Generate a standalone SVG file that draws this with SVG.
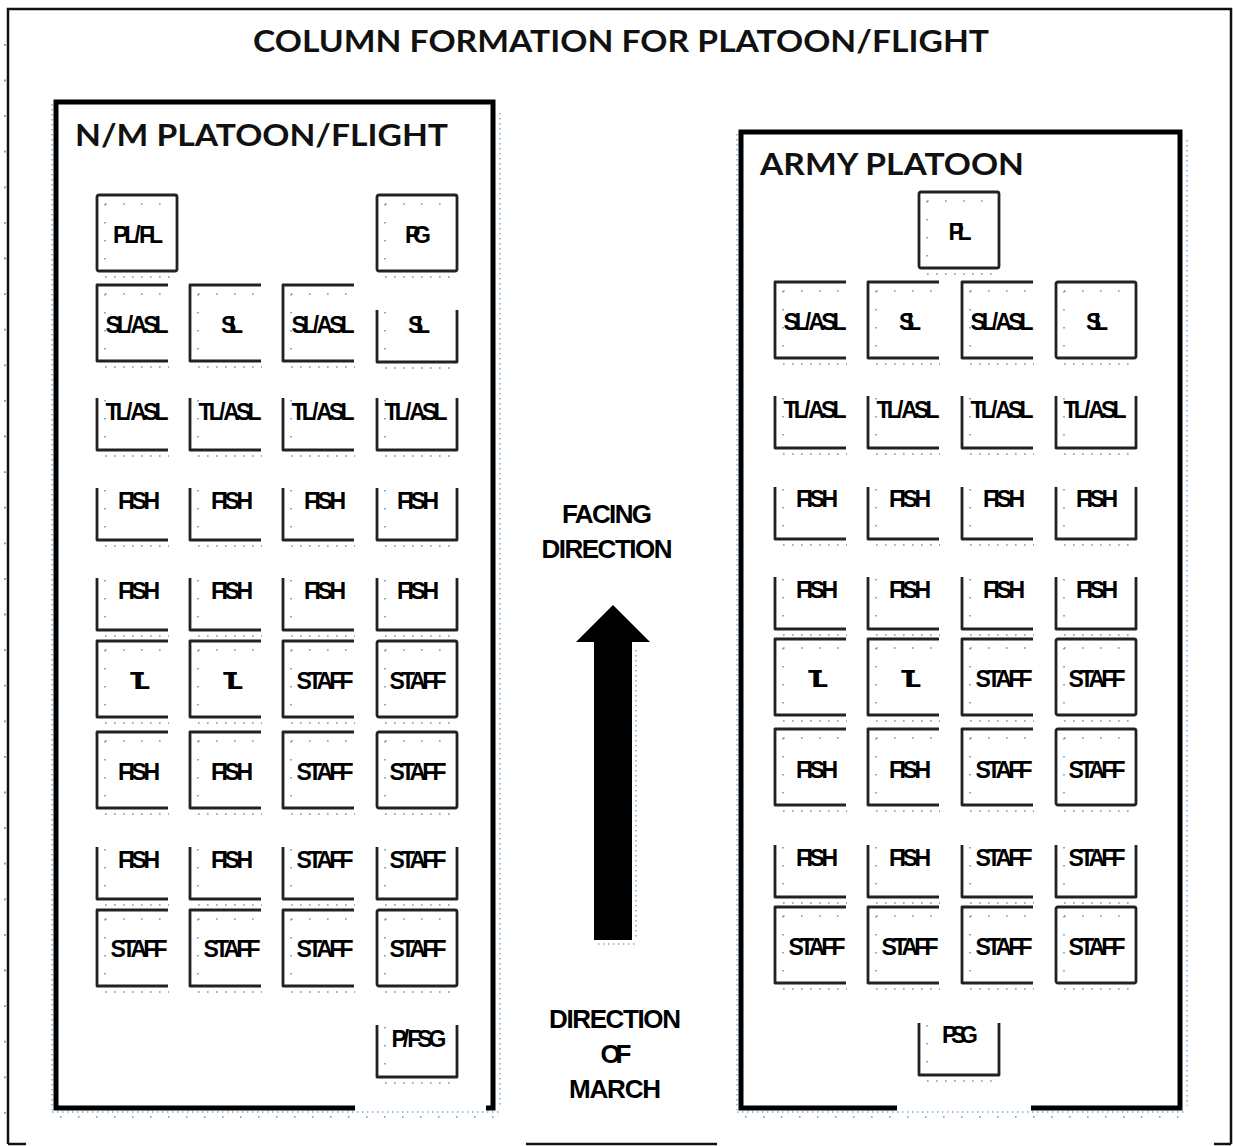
<svg xmlns="http://www.w3.org/2000/svg" xmlns:xlink="http://www.w3.org/1999/xlink" width="1236" height="1146" viewBox="0 0 1236 1146">
<style>
.frame{fill:none;stroke:#111;stroke-width:2.5}
.cont{fill:none;stroke:#000;stroke-width:5;stroke-linejoin:miter}
.b{fill:none;stroke:#222;stroke-width:2.8;stroke-linejoin:round}
.dt{fill:none;stroke:#5b9bd5;stroke-width:1.6;stroke-dasharray:1.6 16.4}
.db{fill:none;stroke:#5b9bd5;stroke-width:1.6;stroke-dasharray:1.6 7.4}
.dd{fill:none;stroke:#6fa8dc;stroke-width:1.4;stroke-dasharray:1.4 3.6}
.ds{fill:none;stroke:#5b9bd5;stroke-width:1.8;stroke-dasharray:1.8 33.8}
.title{font-family:Lato,"Open Sans","Liberation Sans",sans-serif;font-weight:bold;font-size:31px;fill:#111}
.lbl{font-family:"Liberation Sans",Arial,sans-serif;font-weight:bold;font-size:23px;fill:#000;text-anchor:middle}
.big{font-family:"Liberation Sans",Arial,sans-serif;font-weight:bold;font-size:26px;fill:#000;text-anchor:middle}
</style>
<defs>
<g id="sq"><rect x="0" y="0" width="80" height="76" rx="2" class="b"/><path class="dt" d="M8,9H72M8,9V66"/><path class="db" d="M8,82H80"/></g>
<g id="br"><path class="b" d="M71,0H0V76H71"/><path class="dt" d="M8,9H72M8,9V66"/><path class="db" d="M8,82H72"/></g>
<g id="L"><path class="b" d="M0,0V52H71"/><path class="dt" d="M8,2V50"/><path class="db" d="M8,58H72"/></g>
<g id="U"><path class="b" d="M0,0V52H80V0"/><path class="dt" d="M8,2V50"/><path class="db" d="M8,58H80"/></g>
</defs>

<g id="outer-frame">
<path class="frame" d="M8,1144V9H1231V1144"/>
<path class="frame" d="M8,1144H26M526,1144H717M1214,1144H1231"/>
<path class="ds" d="M5,44V1140"/>
</g>

<text class="title" x="621" y="52" text-anchor="middle" textLength="736" lengthAdjust="spacingAndGlyphs">COLUMN FORMATION FOR PLATOON/FLIGHT</text>

<g id="nm-platoon">
<path class="cont" d="M355,1108H56V102H493V1108H486"/>
<path class="dd" d="M52,104V1110M500,113V1106M52,1112H500"/>
<path class="dt" d="M60,1117H500"/>
<text class="title" x="75" y="146" textLength="373" lengthAdjust="spacingAndGlyphs">N/M PLATOON/FLIGHT</text>
</g>

<g id="army-platoon">
<path class="cont" d="M897,1108H741V132H1180V1108H1031"/>
<path class="dd" d="M737,134V1110M1187,140V1106M737,1112H1187"/>
<path class="dt" d="M745,1117H1187"/>
<text class="title" x="760" y="175" textLength="264" lengthAdjust="spacingAndGlyphs">ARMY PLATOON</text>
</g>

<g id="nm-nodes">
<g id="nm-r1c1"><use href="#sq" x="97" y="195"/><text class="lbl" x="138" y="243" textLength="50">PL/ FL</text></g>
<g id="nm-r1c4"><use href="#sq" x="377" y="195"/><text class="lbl" x="418" y="243" textLength="26">PG</text></g>

<g id="nm-r2c1"><use href="#br" x="97" y="285"/><text class="lbl" x="137" y="333" textLength="63">SL/ ASL</text></g>
<g id="nm-r2c2"><use href="#br" x="190" y="285"/><text class="lbl" x="232" y="333" textLength="22">SL</text></g>
<g id="nm-r2c3"><use href="#br" x="283" y="285"/><text class="lbl" x="323" y="333" textLength="63">SL/ ASL</text></g>
<g id="nm-r2c4"><use href="#U" x="377" y="310"/><text class="lbl" x="419" y="333" textLength="22">SL</text></g>

<g id="nm-r3c1"><use href="#L" x="97" y="398"/><text class="lbl" x="137" y="420" textLength="63">TL/ ASL</text></g>
<g id="nm-r3c2"><use href="#L" x="190" y="398"/><text class="lbl" x="230" y="420" textLength="63">TL/ ASL</text></g>
<g id="nm-r3c3"><use href="#L" x="283" y="398"/><text class="lbl" x="323" y="420" textLength="63">TL/ ASL</text></g>
<g id="nm-r3c4"><use href="#U" x="377" y="398"/><text class="lbl" x="416" y="420" textLength="63">TL/ ASL</text></g>

<g id="nm-r4c1"><use href="#L" x="97" y="488"/><text class="lbl" x="139" y="509" textLength="42">FISH</text></g>
<g id="nm-r4c2"><use href="#L" x="190" y="488"/><text class="lbl" x="232" y="509" textLength="42">FISH</text></g>
<g id="nm-r4c3"><use href="#L" x="283" y="488"/><text class="lbl" x="325" y="509" textLength="42">FISH</text></g>
<g id="nm-r4c4"><use href="#U" x="377" y="488"/><text class="lbl" x="418" y="509" textLength="42">FISH</text></g>

<g id="nm-r5c1"><use href="#L" x="97" y="578"/><text class="lbl" x="139" y="599" textLength="42">FISH</text></g>
<g id="nm-r5c2"><use href="#L" x="190" y="578"/><text class="lbl" x="232" y="599" textLength="42">FISH</text></g>
<g id="nm-r5c3"><use href="#L" x="283" y="578"/><text class="lbl" x="325" y="599" textLength="42">FISH</text></g>
<g id="nm-r5c4"><use href="#U" x="377" y="578"/><text class="lbl" x="418" y="599" textLength="42">FISH</text></g>

<g id="nm-r6c1"><use href="#br" x="97" y="641"/><text class="lbl" x="140" y="689" textLength="20">TL</text></g>
<g id="nm-r6c2"><use href="#br" x="190" y="641"/><text class="lbl" x="233" y="689" textLength="20">TL</text></g>
<g id="nm-r6c3"><use href="#br" x="283" y="641"/><text class="lbl" x="325" y="689" textLength="57">STAFF</text></g>
<g id="nm-r6c4"><use href="#sq" x="377" y="641"/><text class="lbl" x="418" y="689" textLength="57">STAFF</text></g>

<g id="nm-r7c1"><use href="#br" x="97" y="732"/><text class="lbl" x="139" y="780" textLength="42">FISH</text></g>
<g id="nm-r7c2"><use href="#br" x="190" y="732"/><text class="lbl" x="232" y="780" textLength="42">FISH</text></g>
<g id="nm-r7c3"><use href="#br" x="283" y="732"/><text class="lbl" x="325" y="780" textLength="57">STAFF</text></g>
<g id="nm-r7c4"><use href="#sq" x="377" y="732"/><text class="lbl" x="418" y="780" textLength="57">STAFF</text></g>

<g id="nm-r8c1"><use href="#L" x="97" y="847"/><text class="lbl" x="139" y="868" textLength="42">FISH</text></g>
<g id="nm-r8c2"><use href="#L" x="190" y="847"/><text class="lbl" x="232" y="868" textLength="42">FISH</text></g>
<g id="nm-r8c3"><use href="#L" x="283" y="847"/><text class="lbl" x="325" y="868" textLength="57">STAFF</text></g>
<g id="nm-r8c4"><use href="#U" x="377" y="847"/><text class="lbl" x="418" y="868" textLength="57">STAFF</text></g>

<g id="nm-r9c1"><use href="#br" x="97" y="910"/><text class="lbl" x="139" y="957" textLength="57">STAFF</text></g>
<g id="nm-r9c2"><use href="#br" x="190" y="910"/><text class="lbl" x="232" y="957" textLength="57">STAFF</text></g>
<g id="nm-r9c3"><use href="#br" x="283" y="910"/><text class="lbl" x="325" y="957" textLength="57">STAFF</text></g>
<g id="nm-r9c4"><use href="#sq" x="377" y="910"/><text class="lbl" x="418" y="957" textLength="57">STAFF</text></g>

<g id="nm-r10c4"><use href="#U" x="377" y="1025"/><text class="lbl" x="419" y="1047" textLength="55">P/ FSG</text></g>
</g>

<g id="army-nodes">
<g id="ar-r1"><use href="#sq" x="919" y="192"/><text class="lbl" x="960" y="240" textLength="23">PL</text></g>

<g id="ar-r2c1"><use href="#br" x="775" y="282"/><text class="lbl" x="815" y="330" textLength="63">SL/ ASL</text></g>
<g id="ar-r2c2"><use href="#br" x="868" y="282"/><text class="lbl" x="910" y="330" textLength="22">SL</text></g>
<g id="ar-r2c3"><use href="#br" x="962" y="282"/><text class="lbl" x="1002" y="330" textLength="63">SL/ ASL</text></g>
<g id="ar-r2c4"><use href="#sq" x="1056" y="282"/><text class="lbl" x="1097" y="330" textLength="22">SL</text></g>

<g id="ar-r3c1"><use href="#L" x="775" y="396"/><text class="lbl" x="815" y="418" textLength="63">TL/ ASL</text></g>
<g id="ar-r3c2"><use href="#L" x="868" y="396"/><text class="lbl" x="908" y="418" textLength="63">TL/ ASL</text></g>
<g id="ar-r3c3"><use href="#L" x="962" y="396"/><text class="lbl" x="1002" y="418" textLength="63">TL/ ASL</text></g>
<g id="ar-r3c4"><use href="#U" x="1056" y="396"/><text class="lbl" x="1095" y="418" textLength="63">TL/ ASL</text></g>

<g id="ar-r4c1"><use href="#L" x="775" y="487"/><text class="lbl" x="817" y="507" textLength="42">FISH</text></g>
<g id="ar-r4c2"><use href="#L" x="868" y="487"/><text class="lbl" x="910" y="507" textLength="42">FISH</text></g>
<g id="ar-r4c3"><use href="#L" x="962" y="487"/><text class="lbl" x="1004" y="507" textLength="42">FISH</text></g>
<g id="ar-r4c4"><use href="#U" x="1056" y="487"/><text class="lbl" x="1097" y="507" textLength="42">FISH</text></g>

<g id="ar-r5c1"><use href="#L" x="775" y="577"/><text class="lbl" x="817" y="598" textLength="42">FISH</text></g>
<g id="ar-r5c2"><use href="#L" x="868" y="577"/><text class="lbl" x="910" y="598" textLength="42">FISH</text></g>
<g id="ar-r5c3"><use href="#L" x="962" y="577"/><text class="lbl" x="1004" y="598" textLength="42">FISH</text></g>
<g id="ar-r5c4"><use href="#U" x="1056" y="577"/><text class="lbl" x="1097" y="598" textLength="42">FISH</text></g>

<g id="ar-r6c1"><use href="#br" x="775" y="639"/><text class="lbl" x="818" y="687" textLength="20">TL</text></g>
<g id="ar-r6c2"><use href="#br" x="868" y="639"/><text class="lbl" x="911" y="687" textLength="20">TL</text></g>
<g id="ar-r6c3"><use href="#br" x="962" y="639"/><text class="lbl" x="1004" y="687" textLength="57">STAFF</text></g>
<g id="ar-r6c4"><use href="#sq" x="1056" y="639"/><text class="lbl" x="1097" y="687" textLength="57">STAFF</text></g>

<g id="ar-r7c1"><use href="#br" x="775" y="729"/><text class="lbl" x="817" y="778" textLength="42">FISH</text></g>
<g id="ar-r7c2"><use href="#br" x="868" y="729"/><text class="lbl" x="910" y="778" textLength="42">FISH</text></g>
<g id="ar-r7c3"><use href="#br" x="962" y="729"/><text class="lbl" x="1004" y="778" textLength="57">STAFF</text></g>
<g id="ar-r7c4"><use href="#sq" x="1056" y="729"/><text class="lbl" x="1097" y="778" textLength="57">STAFF</text></g>

<g id="ar-r8c1"><use href="#L" x="775" y="845"/><text class="lbl" x="817" y="866" textLength="42">FISH</text></g>
<g id="ar-r8c2"><use href="#L" x="868" y="845"/><text class="lbl" x="910" y="866" textLength="42">FISH</text></g>
<g id="ar-r8c3"><use href="#L" x="962" y="845"/><text class="lbl" x="1004" y="866" textLength="57">STAFF</text></g>
<g id="ar-r8c4"><use href="#U" x="1056" y="845"/><text class="lbl" x="1097" y="866" textLength="57">STAFF</text></g>

<g id="ar-r9c1"><use href="#br" x="775" y="907"/><text class="lbl" x="817" y="955" textLength="57">STAFF</text></g>
<g id="ar-r9c2"><use href="#br" x="868" y="907"/><text class="lbl" x="910" y="955" textLength="57">STAFF</text></g>
<g id="ar-r9c3"><use href="#br" x="962" y="907"/><text class="lbl" x="1004" y="955" textLength="57">STAFF</text></g>
<g id="ar-r9c4"><use href="#sq" x="1056" y="907"/><text class="lbl" x="1097" y="955" textLength="57">STAFF</text></g>

<g id="ar-r10"><use href="#U" x="919" y="1023"/><text class="lbl" x="960" y="1043" textLength="36">PSG</text></g>
</g>

<g id="facing">
<text class="big" x="607" y="523" textLength="90">FACING</text>
<text class="big" x="607" y="558" textLength="131">DIRECTION</text>
</g>

<g id="arrow">
<path d="M613,605L650,642H632V940H594V642H576Z" fill="#000"/>
<path class="dd" d="M636,650V940M598,944H636"/>
</g>

<g id="march">
<text class="big" x="615" y="1028" textLength="132">DIRECTION</text>
<text class="big" x="616" y="1063" textLength="31">OF</text>
<text class="big" x="615" y="1098" textLength="92">MARCH</text>
</g>
</svg>
